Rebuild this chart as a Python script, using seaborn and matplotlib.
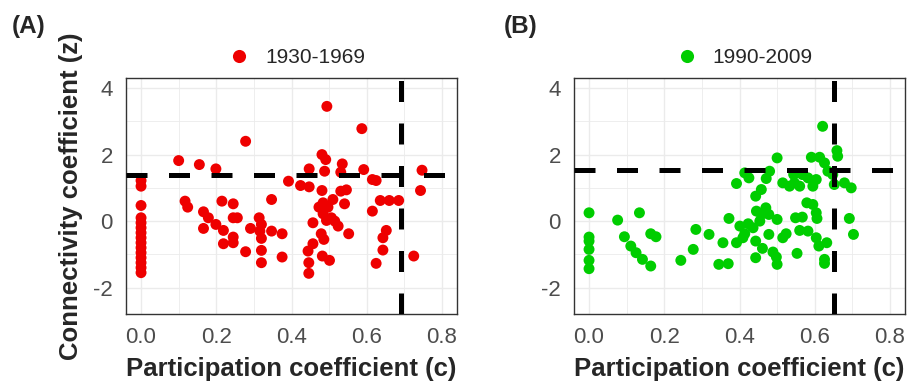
import numpy as np
import pandas as pd
import matplotlib
matplotlib.use('Agg')
import matplotlib.pyplot as plt
import seaborn as sns
from matplotlib.ticker import MultipleLocator

# panel A: 1930-1969
x_a = [0, 0, 0, 0, 0, 0, 0, 0, 0, 0, 0, 0, 0, 0, 0,
       0.100, 0.155, 0.199, 0.278, 0.117, 0.124, 0.166, 0.179, 0.166, 0.199,
       0.215, 0.219, 0.219, 0.245, 0.245, 0.256, 0.245, 0.245, 0.278, 0.291,
       0.314, 0.320, 0.316, 0.320, 0.320, 0.320, 0.347, 0.347, 0.375, 0.375,
       0.392, 0.424, 0.447, 0.447, 0.494, 0.587, 0.481, 0.491, 0.488, 0.535,
       0.531, 0.592, 0.615, 0.625, 0.747, 0.743, 0.481, 0.531, 0.546, 0.510,
       0.484, 0.541, 0.473, 0.497, 0.484, 0.506, 0.515, 0.524, 0.493, 0.457,
       0.636, 0.660, 0.685, 0.615, 0.552, 0.479, 0.486, 0.457, 0.444, 0.446,
       0.446, 0.482, 0.501, 0.652, 0.643, 0.643, 0.625, 0.725]
z_a = [1.22, 1.05, 0.47, 0.10, -0.05, -0.20, -0.35, -0.50, -0.65, -0.80, -0.95, -1.10, -1.25, -1.40, -1.55,
       1.82, 1.70, 1.57, 2.40, 0.60, 0.42, 0.28, 0.10, -0.22, -0.10,
       0.60, -0.28, -0.68, 0.52, 0.10, 0.10, -0.48, -0.65, -0.92, -0.22,
       0.10, -0.10, -0.30, -0.52, -0.88, -1.25, 0.65, -0.30, -0.38, -1.08,
       1.20, 1.07, 1.03, 1.57, 3.45, 2.78, 2.00, 1.85, 1.50, 1.72,
       1.47, 1.55, 1.25, 1.22, 1.53, 0.92, 0.92, 0.90, 0.94, 0.65,
       0.55, 0.52, 0.42, 0.42, 0.22, 0.10, 0.00, -0.15, 0.02, -0.05,
       0.62, 0.62, 0.62, 0.30, -0.38, -0.38, -0.55, -0.68, -0.90, -1.25,
       -1.57, -1.05, -1.18, -0.28, -0.50, -0.87, -1.27, -1.05]

# panel B: 1990-2009
x_b = [0, 0, 0, 0, 0, 0,
       0.076, 0.134, 0.094, 0.111, 0.125, 0.142, 0.164, 0.164, 0.178, 0.244,
       0.277, 0.284, 0.319, 0.356, 0.345, 0.370, 0.372, 0.392, 0.414, 0.425,
       0.500, 0.480, 0.471, 0.458, 0.443, 0.470, 0.445, 0.458, 0.478, 0.500,
       0.401, 0.423, 0.436, 0.454, 0.414, 0.392, 0.443, 0.461, 0.478, 0.443,
       0.489, 0.498, 0.500, 0.515, 0.524, 0.553, 0.549, 0.567, 0.560, 0.582,
       0.604, 0.611, 0.632, 0.626, 0.626, 0.579, 0.595, 0.604, 0.606, 0.692,
       0.703, 0.515, 0.533, 0.546, 0.560, 0.544, 0.567, 0.582, 0.595, 0.604,
       0.591, 0.613, 0.621, 0.626, 0.635, 0.659, 0.661, 0.648, 0.652, 0.679,
       0.697, 0.409]
z_b = [0.25, -0.48, -0.60, -0.85, -1.18, -1.43,
       0.03, 0.25, -0.47, -0.75, -0.95, -1.15, -1.35, -0.38, -0.47, -1.18,
       -0.85, -0.25, -0.40, -0.65, -1.30, -1.28, 0.08, 1.13, 1.45, 1.30,
       1.90, 1.50, 1.28, 0.95, 0.75, 0.40, 0.30, 0.20, 0.20, 0.05,
       -0.15, -0.08, -0.20, 0.00, -0.38, -0.65, -0.60, -0.82, -0.40, -1.10,
       -0.93, -1.08, -1.30, -0.50, -0.38, -0.97, 0.10, 0.12, -0.28, -0.30,
       -0.50, -0.75, -0.65, -1.15, -1.27, 0.55, 0.50, 0.25, 0.08, 0.08,
       -0.40, 1.15, 1.05, 1.15, 1.05, 1.40, 1.40, 1.30, 1.05, 1.25,
       1.92, 1.92, 2.85, 1.75, 1.50, 2.12, 1.95, 1.40, 1.10, 1.15,
       1.00, -0.50]

# thresholds
c_cut = {'A': 0.69, 'B': 0.652}
z_cut = {'A': 1.38, 'B': 1.55}

panels = [
    ('A', '1930-1969', x_a, z_a, '#EE0000'),
    ('B', '1990-2009', x_b, z_b, '#00CD00'),
]

sns.set_style('white')
plt.rcParams['font.family'] = ['Liberation Sans', 'DejaVu Sans']
plt.rcParams['axes.unicode_minus'] = False

fig = plt.figure(figsize=(9.15, 3.91), dpi=100)
lefts = [126 / 915, 574 / 915]
tag_x = [12 / 915, 504 / 915]

for (tag, period, xs, zs, col), left, tx in zip(panels, lefts, tag_x):
    ax = fig.add_axes([left, 0.198, 331 / 915, 0.6023])
    df = pd.DataFrame({'c': xs, 'z': zs, 'period': period})
    sns.scatterplot(data=df, x='c', y='z', hue='period', palette=[col],
                    s=62, linewidth=0, ax=ax, zorder=3)
    ax.axhline(z_cut[tag], color='black', lw=3.6, dashes=(4.2, 4.3), zorder=4)
    ax.axvline(c_cut[tag], color='black', lw=3.6, dashes=(4.2, 4.3), zorder=4)

    ax.set_xlim(-0.04, 0.84)
    ax.set_ylim(-2.78, 4.3)
    ax.set_xticks([0, 0.2, 0.4, 0.6, 0.8])
    ax.set_xticklabels(['0.0', '0.2', '0.4', '0.6', '0.8'])
    ax.set_yticks([-2, 0, 2, 4])
    ax.xaxis.set_minor_locator(MultipleLocator(0.1))
    ax.yaxis.set_minor_locator(MultipleLocator(1))
    ax.grid(which='major', color='#EBEBEB', lw=1.0, zorder=0)
    ax.grid(which='minor', color='#EBEBEB', lw=0.6, zorder=0)
    ax.set_axisbelow(True)
    ax.tick_params(which='major', length=4.5, width=1.0, color='#333333',
                   labelcolor='#4D4D4D', labelsize=16, pad=5)
    ax.tick_params(which='minor', length=0)
    for sp in ax.spines.values():
        sp.set_color('#333333')
        sp.set_linewidth(1.0)

    ax.set_xlabel('Participation coefficient (c)', fontsize=18.5, fontweight='bold', labelpad=7)
    if tag == 'A':
        ax.set_ylabel('Connectivity coefficient (z)', fontsize=18.5, fontweight='bold', labelpad=7)
    else:
        ax.set_ylabel('')

    sns.move_legend(ax, 'lower center', bbox_to_anchor=(0.5, 0.985), title=None,
                    frameon=False, fontsize=15, markerscale=1.2,
                    handletextpad=0.25, borderaxespad=0.3)

    fig.text(tx, 0.933, f'({tag})', fontsize=17.5, fontweight='bold', va='center', ha='left')

fig.savefig('out.png', dpi=100)
